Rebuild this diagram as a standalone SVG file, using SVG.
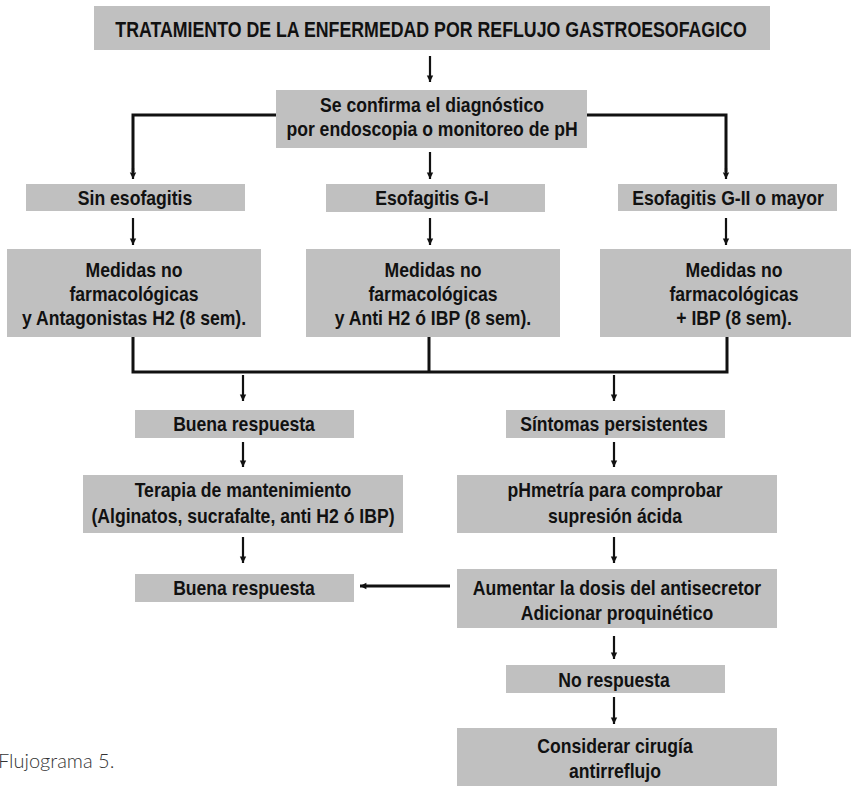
<svg xmlns="http://www.w3.org/2000/svg" width="851" height="786" viewBox="0 0 851 786">
<defs>
<marker id="ah" viewBox="0 0 8 10" refX="8" refY="5" markerWidth="9" markerHeight="8" markerUnits="userSpaceOnUse" orient="auto">
<path d="M0,1 L8,5 L0,9 z" fill="#111"/>
</marker>
</defs>
<style>
.box{fill:#c0c0c0;}
.t{font-family:"Liberation Sans",Arial,sans-serif;font-weight:bold;font-size:20px;fill:#111;text-anchor:middle;}
.tt{font-family:"Liberation Sans",Arial,sans-serif;font-weight:bold;font-size:22px;fill:#111;text-anchor:middle;}
.ar{stroke:#111;stroke-width:2.2;fill:none;marker-end:url(#ah);}
.arh{stroke:#111;stroke-width:3;fill:none;marker-end:url(#ah);}
.ln{stroke:#111;stroke-width:3;fill:none;}
.cap{font-family:Lato,"Liberation Sans",sans-serif;font-weight:300;font-size:20px;fill:#333;}
</style>
<rect width="851" height="786" fill="#fff"/>
<g id="connectors">
<path class="ar" d="M430 56 V82"/>
<path class="ln" d="M276 115 H133 V172"/>
<path class="ar" d="M133 168 V179"/>
<path class="ln" d="M587 115 H726 V172"/>
<path class="ar" d="M726 168 V179"/>
<path class="ar" d="M430 152 V179"/>
<path class="ar" d="M133 218 V245"/>
<path class="ar" d="M430 218 V245"/>
<path class="ar" d="M726 218 V245"/>
<path class="ln" d="M133 337 V372 H727 V337"/>
<path class="ln" d="M429 337 V372"/>
<path class="ar" d="M243 375 V401"/>
<path class="ar" d="M614 375 V401"/>
<path class="ar" d="M243 442 V467"/>
<path class="ar" d="M614 442 V467"/>
<path class="ar" d="M243 537 V563"/>
<path class="ar" d="M614 537 V563"/>
<path class="arh" d="M450 586 H360"/>
<path class="ar" d="M614 636 V659"/>
<path class="ar" d="M614 697 V724"/>
</g>
<g id="n-title">
<rect class="box" x="94" y="6" width="676" height="44"/>
<text class="tt" transform="translate(431,37) scale(0.807,1)">TRATAMIENTO DE LA ENFERMEDAD POR REFLUJO GASTROESOFAGICO</text>
</g>
<g id="n-confirma">
<rect class="box" x="276" y="90" width="311" height="58"/>
<text class="t" transform="translate(432,112) scale(0.88,1)">Se confirma el diagnóstico</text>
<text class="t" transform="translate(432,136) scale(0.88,1)">por endoscopia o monitoreo de pH</text>
</g>
<g id="n-sin">
<rect class="box" x="26" y="184" width="219" height="27"/>
<text class="t" transform="translate(135,205) scale(0.88,1)">Sin esofagitis</text>
</g>
<g id="n-g1">
<rect class="box" x="326" y="184" width="219" height="28"/>
<text class="t" transform="translate(432,205) scale(0.88,1)">Esofagitis G-I</text>
</g>
<g id="n-g2">
<rect class="box" x="618" y="184" width="219" height="27"/>
<text class="t" transform="translate(728,205) scale(0.88,1)">Esofagitis G-II o mayor</text>
</g>
<g id="n-med1">
<rect class="box" x="7" y="249" width="254" height="88"/>
<text class="t" transform="translate(134,277) scale(0.88,1)">Medidas no</text>
<text class="t" transform="translate(134,301) scale(0.88,1)">farmacológicas</text>
<text class="t" transform="translate(134,325) scale(0.88,1)">y Antagonistas H2 (8 sem).</text>
</g>
<g id="n-med2">
<rect class="box" x="306" y="249" width="254" height="88"/>
<text class="t" transform="translate(433,277) scale(0.88,1)">Medidas no</text>
<text class="t" transform="translate(433,301) scale(0.88,1)">farmacológicas</text>
<text class="t" transform="translate(433,325) scale(0.88,1)">y Anti H2 ó IBP (8 sem).</text>
</g>
<g id="n-med3">
<rect class="box" x="600" y="249" width="251" height="88"/>
<text class="t" transform="translate(734,277) scale(0.88,1)">Medidas no</text>
<text class="t" transform="translate(734,301) scale(0.88,1)">farmacológicas</text>
<text class="t" transform="translate(734,325) scale(0.88,1)">+ IBP (8 sem).</text>
</g>
<g id="n-buena1">
<rect class="box" x="135" y="410" width="219" height="28"/>
<text class="t" transform="translate(244,431) scale(0.88,1)">Buena respuesta</text>
</g>
<g id="n-sintomas">
<rect class="box" x="506" y="410" width="219" height="28"/>
<text class="t" transform="translate(614,431) scale(0.88,1)">Síntomas persistentes</text>
</g>
<g id="n-terapia">
<rect class="box" x="83" y="475" width="320" height="58"/>
<text class="t" transform="translate(243,497) scale(0.88,1)">Terapia de mantenimiento</text>
<text class="t" transform="translate(243,523) scale(0.88,1)">(Alginatos, sucrafalte, anti H2 ó IBP)</text>
</g>
<g id="n-phmetria">
<rect class="box" x="457" y="475" width="320" height="58"/>
<text class="t" transform="translate(615,497) scale(0.88,1)">pHmetría para comprobar</text>
<text class="t" transform="translate(615,523) scale(0.88,1)">supresión ácida</text>
</g>
<g id="n-buena2">
<rect class="box" x="135" y="574" width="219" height="28"/>
<text class="t" transform="translate(244,595) scale(0.88,1)">Buena respuesta</text>
</g>
<g id="n-aumentar">
<rect class="box" x="457" y="569" width="320" height="59"/>
<text class="t" transform="translate(617,595) scale(0.88,1)">Aumentar la dosis del antisecretor</text>
<text class="t" transform="translate(617,620) scale(0.88,1)">Adicionar proquinético</text>
</g>
<g id="n-norespuesta">
<rect class="box" x="506" y="665" width="219" height="28"/>
<text class="t" transform="translate(614,687) scale(0.88,1)">No respuesta</text>
</g>
<g id="n-cirugia">
<rect class="box" x="457" y="728" width="320" height="58"/>
<text class="t" transform="translate(615,753) scale(0.88,1)">Considerar cirugía</text>
<text class="t" transform="translate(615,778) scale(0.88,1)">antirreflujo</text>
</g>
<text class="cap" x="-2" y="768">Flujograma 5.</text>
</svg>
